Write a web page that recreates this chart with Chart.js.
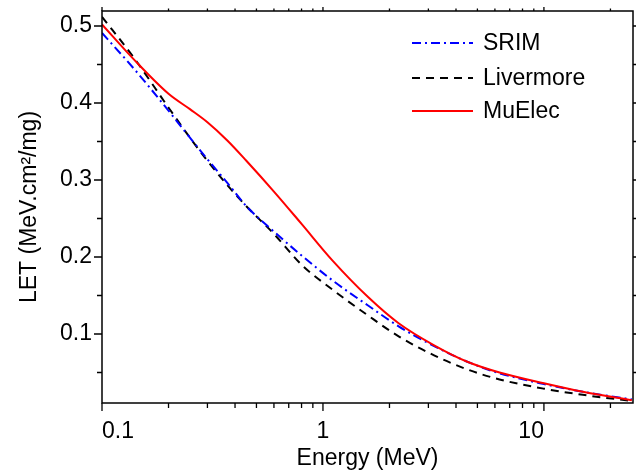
<!DOCTYPE html>
<html>
<head>
    <meta charset="UTF-8">
    <title>LET vs Energy</title>
    <style>
        body { margin: 0; background: #fff; }
        .chart-container { width: 636px; height: 471px; }
    </style>
    <script src="https://cdn.jsdelivr.net/npm/chart.js"></script>
</head>
<body>
<div class="chart-container">
    <canvas id="letChart"></canvas>
</div>
<script>
    const energy = [0.1, 0.14, 0.2, 0.25, 0.3, 0.37, 0.45, 0.6, 0.8, 1.1, 1.6, 2.2, 3.2, 4.5, 6.3, 10, 15, 25];

    // LET values (MeV.cm²/mg)
    const srimLET      = [0.491, 0.444, 0.390, 0.355, 0.327, 0.296, 0.266, 0.233, 0.202, 0.170, 0.137, 0.110, 0.084, 0.064, 0.049, 0.035, 0.025, 0.015];
    const livermoreLET = [0.512, 0.458, 0.394, 0.355, 0.325, 0.293, 0.266, 0.230, 0.190, 0.158, 0.124, 0.097, 0.072, 0.054, 0.041, 0.029, 0.021, 0.013];
    const muelecLET    = [0.502, 0.456, 0.412, 0.392, 0.375, 0.351, 0.325, 0.285, 0.243, 0.196, 0.148, 0.114, 0.085, 0.064, 0.050, 0.036, 0.025, 0.014];

    // axis ticks
    const xMajorTicks = [0.1, 1, 10];
    const xMinorTicks = [0.2, 0.3, 0.4, 0.5, 0.6, 0.7, 0.8, 0.9, 2, 3, 4, 5, 6, 7, 8, 9, 20];
    const yMajorTicks = [0.1, 0.2, 0.3, 0.4, 0.5];
    const yMinorTicks = [0.05, 0.15, 0.25, 0.35, 0.45];

    const FONT = 'Arial, "Liberation Sans", sans-serif';
    const FSIZE = 23;

    function toPoints(ys) {
        return energy.map((e, i) => ({ x: e, y: ys[i] }));
    }

    // frame, mirrored ticks and the legend inside the plot
    const framePlugin = {
        id: 'frame',
        afterDraw(chart) {
            const ctx = chart.ctx;
            const a = chart.chartArea;
            const xs = chart.scales.x;
            const ys = chart.scales.y;
            ctx.save();
            ctx.strokeStyle = '#000';
            ctx.lineWidth = 1.5;
            ctx.strokeRect(a.left, a.top, a.right - a.left, a.bottom - a.top);

            ctx.lineWidth = 1.3;
            ctx.beginPath();
            function xTick(v, len) {
                const px = xs.getPixelForValue(v);
                ctx.moveTo(px, a.bottom); ctx.lineTo(px, a.bottom + len);
                ctx.moveTo(px, a.top); ctx.lineTo(px, a.top - len * 0.5);
            }
            function yTick(v, len) {
                const py = ys.getPixelForValue(v);
                ctx.moveTo(a.left, py); ctx.lineTo(a.left - len, py);
                ctx.moveTo(a.right, py); ctx.lineTo(a.right + len, py);
            }
            xMajorTicks.forEach(v => xTick(v, 8));
            xMinorTicks.forEach(v => xTick(v, 5));
            yMajorTicks.forEach(v => yTick(v, 8));
            yMinorTicks.forEach(v => yTick(v, 5));
            ctx.stroke();

            // legend
            const lx0 = 412, lx1 = 473, tx = 483;
            const rows = [43, 78, 111];
            ctx.font = FSIZE + 'px ' + FONT;
            ctx.textBaseline = 'middle';
            ctx.textAlign = 'left';
            chart.data.datasets.forEach((ds, i) => {
                const y = rows[i];
                ctx.beginPath();
                ctx.strokeStyle = ds.borderColor;
                ctx.lineWidth = ds.borderWidth;
                ctx.setLineDash(ds.borderDash || []);
                ctx.moveTo(lx0, y);
                ctx.lineTo(lx1, y);
                ctx.stroke();
                ctx.setLineDash([]);
                ctx.fillStyle = '#000';
                ctx.fillText(ds.label, tx, y + 1);
            });
            ctx.restore();
        }
    };

    new Chart(document.getElementById('letChart'), {
        type: 'line',
        data: {
            datasets: [
                {
                    label: 'SRIM',
                    data: toPoints(srimLET),
                    borderColor: '#0000ff',
                    borderWidth: 2,
                    borderDash: [9, 4, 2, 4],
                    order: 1
                },
                {
                    label: 'Livermore',
                    data: toPoints(livermoreLET),
                    borderColor: '#000000',
                    borderWidth: 2,
                    borderDash: [8, 6],
                    order: 2
                },
                {
                    label: 'MuElec',
                    data: toPoints(muelecLET),
                    borderColor: '#ff0000',
                    borderWidth: 2,
                    order: 0
                }
            ]
        },
        options: {
            responsive: true,
            maintainAspectRatio: false,
            animation: false,
            layout: { padding: { top: 11, right: 3, left: 0, bottom: 0 } },
            elements: {
                point: { radius: 0 },
                line: { fill: false, cubicInterpolationMode: 'monotone' }
            },
            plugins: {
                legend: { display: false },
                tooltip: { enabled: false }
            },
            scales: {
                x: {
                    type: 'logarithmic',
                    min: 0.1,
                    max: 25.3,
                    afterBuildTicks: scale => {
                        scale.ticks = xMajorTicks.map(v => ({ value: v }));
                    },
                    afterFit: scale => {
                        scale.height = 68;
                        scale.paddingLeft = 0;
                        scale.paddingRight = 0;
                    },
                    grid: { display: false, drawTicks: false },
                    border: { display: false },
                    ticks: {
                        color: '#000',
                        font: { family: FONT, size: FSIZE },
                        padding: 15,
                        align: 'inner',
                        maxRotation: 0,
                        autoSkip: false,
                        callback: value => String(value)
                    },
                    title: {
                        display: true,
                        text: 'Energy (MeV)',
                        color: '#000',
                        font: { family: FONT, size: FSIZE },
                        padding: { top: 0, bottom: -1 }
                    }
                },
                y: {
                    type: 'linear',
                    min: 0.0104,
                    max: 0.5195,
                    afterBuildTicks: scale => {
                        scale.ticks = yMajorTicks.map(v => ({ value: v }));
                    },
                    afterFit: scale => {
                        scale.width = 102;
                        scale.paddingTop = 0;
                        scale.paddingBottom = 0;
                    },
                    grid: { display: false, drawTicks: false },
                    border: { display: false },
                    ticks: {
                        color: '#000',
                        font: { family: FONT, size: FSIZE },
                        padding: 10,
                        callback: value => value.toFixed(1)
                    },
                    title: {
                        display: true,
                        text: 'LET (MeV.cm²/mg)',
                        color: '#000',
                        font: { family: FONT, size: FSIZE },
                        padding: { top: 16, bottom: 0 }
                    }
                }
            }
        },
        plugins: [framePlugin]
    });
</script>
</body>
</html>
